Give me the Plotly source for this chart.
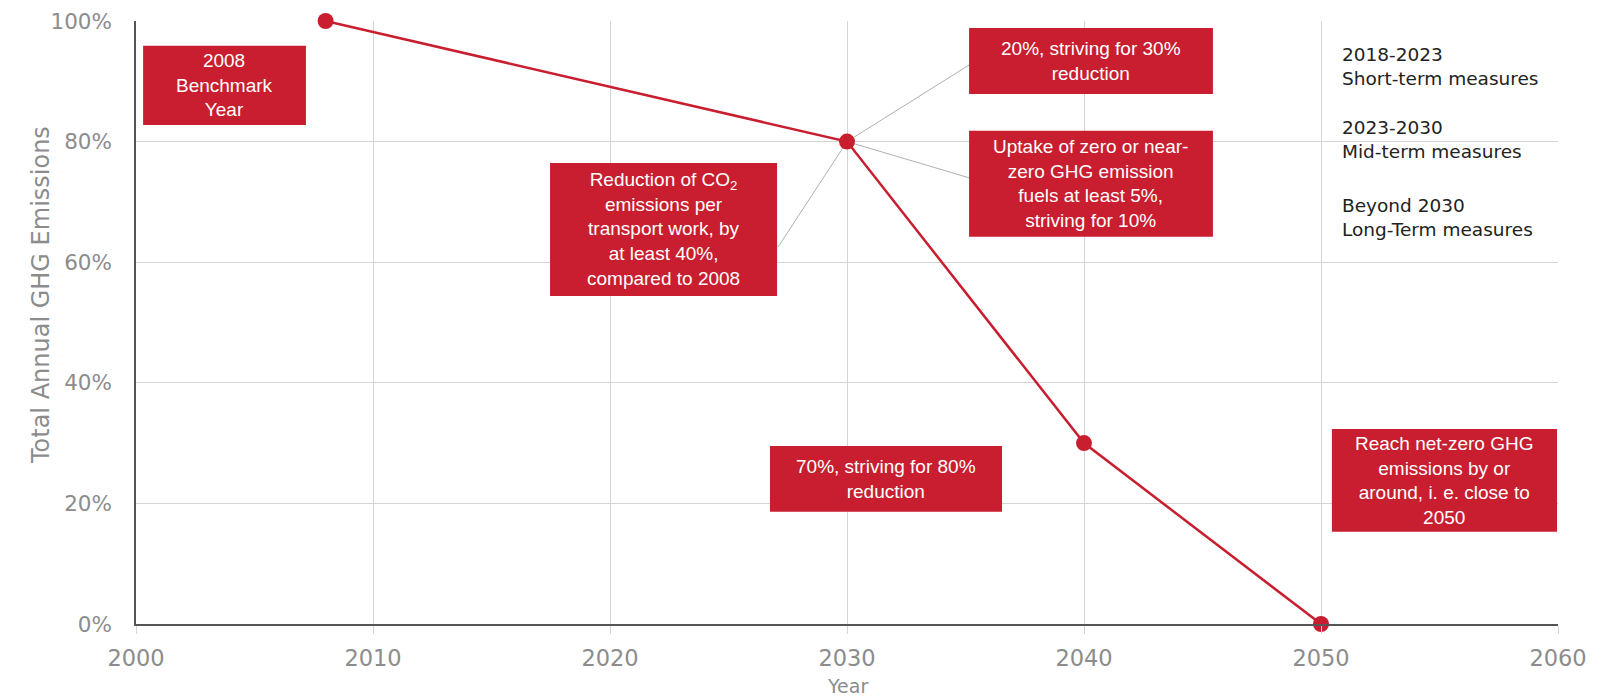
import plotly.graph_objects as go

# ---- data ----
years = [2008, 2030, 2040, 2050]
emissions = [100, 80, 30, 0]

x_ticks = [2000, 2010, 2020, 2030, 2040, 2050, 2060]
y_ticks = [0, 20, 40, 60, 80, 100]
y_tick_labels = ["0%", "20%", "40%", "60%", "80%", "100%"]

box_texts = [
    "2008<br>Benchmark<br>Year",
    "20%, striving for 30%<br>reduction",
    "Uptake of zero or near-<br>zero GHG emission<br>fuels at least 5%,<br>striving for 10%",
    "Reduction of CO<sub>2</sub><br>emissions per<br>transport work, by<br>at least 40%,<br>compared to 2008",
    "70%, striving for 80%<br>reduction",
    "Reach net-zero GHG<br>emissions by or<br>around, i. e. close to<br>2050",
]
measure_texts = [
    "2018-2023<br>Short-term measures",
    "2023-2030<br>Mid-term measures",
    "Beyond 2030<br>Long-Term measures",
]

# ---- layout geometry (box extents in data units: x0, x1, y0, y1) ----
box_geom = [
    (2000.3, 2007.17, 82.75, 95.9),
    (2035.15, 2045.44, 87.9, 98.85),
    (2035.15, 2045.44, 64.2, 81.8),
    (2017.47, 2027.05, 54.4, 76.45),
    (2026.75, 2036.54, 18.6, 29.5),
    (2050.46, 2059.96, 15.3, 32.35),
]
connector_ends = [(2035.15, 92.7), (2035.15, 74.0), (2027.09, 62.5)]
measure_y = [92.5, 80.3, 67.4]

RED = "#C81E2F"
GRID = "#D4D4D4"
TICK = "#8C8C8C"

fig = go.Figure()

shapes = []
for (x0, x1, y0, y1) in box_geom:
    shapes.append(dict(type="rect", xref="x", yref="y", x0=x0, x1=x1, y0=y0, y1=y1,
                       fillcolor=RED, line=dict(width=0), layer="above"))
for (ex, ey) in connector_ends:
    shapes.append(dict(type="line", xref="x", yref="y", x0=years[1], y0=emissions[1],
                       x1=ex, y1=ey, line=dict(color="#B0B0B0", width=1), layer="below"))

fig.add_trace(go.Scatter(
    x=years, y=emissions, mode="lines+markers",
    line=dict(color=RED, width=2.5),
    marker=dict(color=RED, size=16),
    cliponaxis=False, hoverinfo="skip",
))

annotations = []
for (x0, x1, y0, y1), t in zip(box_geom, box_texts):
    annotations.append(dict(x=(x0 + x1) / 2, y=(y0 + y1) / 2, xref="x", yref="y",
                            text=t, showarrow=False, xanchor="center", yanchor="middle",
                            align="center",
                            font=dict(family="Liberation Sans, Arial, sans-serif", size=19, color="white")))
for t, yy in zip(measure_texts, measure_y):
    annotations.append(dict(x=2050.8, y=yy, xref="x", yref="y", text=t, showarrow=False,
                            xanchor="left", yanchor="middle", align="left",
                            font=dict(family="DejaVu Sans, sans-serif", size=18.5, color="#222222")))
annotations.append(dict(x=-0.0668, y=0.5456, xref="paper", yref="paper",
                        text="Total Annual GHG Emissions", textangle=-90, showarrow=False,
                        xanchor="center", yanchor="middle",
                        font=dict(family="DejaVu Sans, sans-serif", size=24, color=TICK)))
annotations.append(dict(x=0.5, y=-0.1028, xref="paper", yref="paper", text="Year",
                        showarrow=False, xanchor="center", yanchor="middle",
                        font=dict(family="DejaVu Sans, sans-serif", size=19, color=TICK)))

# page body adds an 8px margin, so the figure is sized/offset to compensate
fig.update_layout(
    width=1615, height=692,
    margin=dict(l=128, r=65, t=13, b=76),
    plot_bgcolor="white", paper_bgcolor="white",
    showlegend=False,
    shapes=shapes, annotations=annotations,
    xaxis=dict(range=[2000, 2060], tickvals=x_ticks, showgrid=True, gridcolor=GRID, gridwidth=1,
               zeroline=False, showline=True, linecolor="#555555", linewidth=1.5,
               ticks="outside", ticklen=8, tickcolor=GRID, automargin=False,
               tickfont=dict(family="DejaVu Sans, sans-serif", size=22.5, color=TICK),
               ticklabelstandoff=5),
    yaxis=dict(range=[0, 100], tickvals=y_ticks, ticktext=y_tick_labels, showgrid=True,
               gridcolor=GRID, gridwidth=1, zeroline=False, showline=True,
               linecolor="#555555", linewidth=1.5, ticks="", automargin=False,
               tickfont=dict(family="DejaVu Sans, sans-serif", size=21.5, color=TICK),
               ticklabelstandoff=18),
)

fig.write_html("out.html")
